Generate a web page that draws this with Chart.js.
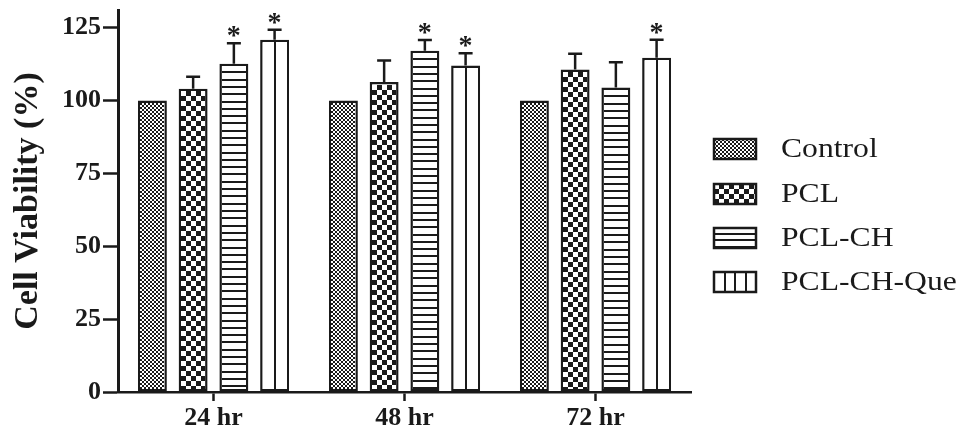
<!DOCTYPE html>
<html><head><meta charset="utf-8">
<script src="https://cdn.jsdelivr.net/npm/chart.js@4.4.0/dist/chart.umd.min.js"></script>
<style>html,body{margin:0;padding:0;background:#fff;}#wrap{width:961px;height:434px;position:relative;}</style>
</head><body><div id="wrap"><canvas id="c" width="961" height="434"></canvas></div>
<script>
// ---- data ----
const categories = ['24 hr', '48 hr', '72 hr'];
const seriesNames = ['Control', 'PCL', 'PCL-CH', 'PCL-CH-Que'];
const controlValues = [100, 100, 100];
const pclValues = [104, 106.3, 110.6];
const pclChValues = [112.6, 117, 104.4];
const pclChQueValues = [120.8, 112, 114.6];
const controlErrors = [0, 0, 0];
const pclErrors = [4.1, 7.4, 5.4];
const pclChErrors = [7, 3.7, 8.7];
const pclChQueErrors = [3.4, 4.2, 6.2];
const controlSig = [false, false, false];
const pclSig = [false, false, false];
const pclChSig = [true, true, false];
const pclChQueSig = [true, true, true];
const yTickValues = [0, 25, 50, 75, 100, 125];

const INK = '#1a1a1a';
const FONT = "'Liberation Serif', 'Times New Roman', serif";
const patterns = ['fine', 'checker', 'hlines', 'vlines'];
const valuesList = [controlValues, pclValues, pclChValues, pclChQueValues];
const errorsList = [controlErrors, pclErrors, pclChErrors, pclChQueErrors];
const sigList = [controlSig, pclSig, pclChSig, pclChQueSig];

function drawPattern(ctx, kind, x0, y0, w, h, isLegend) {
  ctx.save();
  ctx.beginPath(); ctx.rect(x0, y0, w, h); ctx.clip();
  ctx.fillStyle = '#fff'; ctx.fillRect(x0, y0, w, h);
  ctx.fillStyle = INK;
  if (kind === 'fine') {
    const s = 2;
    for (let yy = 0; yy < h; yy += s)
      for (let xx = 0; xx < w; xx += s)
        if (((xx / s) + (yy / s)) % 2 === 0) ctx.fillRect(x0 + xx, y0 + yy, s, s);
  } else if (kind === 'checker') {
    const s = 5;
    for (let yy = 0; yy < h; yy += s)
      for (let xx = 0; xx < w; xx += s)
        if ((Math.round(xx / s) + Math.round(yy / s)) % 2 === 1) ctx.fillRect(x0 + xx, y0 + yy, s, s);
  } else if (kind === 'hlines') {
    const p = isLegend ? 6.5 : 7.3;
    for (let yy = p - 1; yy < h; yy += p) ctx.fillRect(x0, Math.round(y0 + yy - 1), w, 2);
  } else if (kind === 'vlines') {
    const n = isLegend ? 4 : 2;
    for (let k = 1; k < n; k++) ctx.fillRect(Math.round(x0 + w * k / n - 1), y0, 2, h);
  }
  ctx.restore();
}

const patternPlugin = {
  id: 'patternPlugin',
  afterDatasetDraw(chart, args) {
    const ctx = chart.ctx;
    const i = args.index;
    const meta = chart.getDatasetMeta(i);
    const bw = 2.5;
    meta.data.forEach(bar => {
      const w = bar.width;
      const left = bar.x - w / 2 + bw, right = bar.x + w / 2 - bw;
      const top = Math.min(bar.y, bar.base) + bw, bottom = Math.max(bar.y, bar.base) - bw;
      drawPattern(ctx, patterns[i], Math.round(left), Math.round(top), Math.round(right - left), Math.round(bottom - top), false);
    });
  },
  afterDatasetsDraw(chart) {
    const ctx = chart.ctx;
    const ys = chart.scales.y;
    ctx.save();
    ctx.strokeStyle = INK; ctx.lineWidth = 2.5; ctx.fillStyle = INK;
    ctx.font = "bold 28px " + FONT; ctx.textAlign = 'center'; ctx.textBaseline = 'alphabetic';
    for (let i = 0; i < valuesList.length; i++) {
      const meta = chart.getDatasetMeta(i);
      meta.data.forEach((bar, j) => {
        const v = valuesList[i][j], e = errorsList[i][j];
        const yCap = ys.getPixelForValue(v + e);
        if (e > 0) {
          const yTop = ys.getPixelForValue(v);
          ctx.beginPath();
          ctx.moveTo(bar.x, yTop); ctx.lineTo(bar.x, yCap);
          ctx.moveTo(bar.x - 7, yCap); ctx.lineTo(bar.x + 7, yCap);
          ctx.stroke();
        }
        if (sigList[i][j]) ctx.fillText('*', bar.x, yCap + 1);
      });
    }
    ctx.restore();
  },
  afterDraw(chart) {
    const ctx = chart.ctx;
    const boxX = 714, boxW = 42, boxH = 20;
    const rowY = [149, 194, 238, 282];
    ctx.save();
    seriesNames.forEach((name, i) => {
      const cy = rowY[i];
      const bx = boxX, by = Math.round(cy - boxH / 2);
      drawPattern(ctx, patterns[i], bx, by, boxW, boxH, true);
      ctx.strokeStyle = INK; ctx.lineWidth = 2.5;
      ctx.strokeRect(bx, by, boxW, boxH);
      ctx.save();
      ctx.translate(781, cy);
      ctx.scale(1.13, 1);
      ctx.fillStyle = INK;
      ctx.font = "28px " + FONT;
      ctx.textAlign = 'left'; ctx.textBaseline = 'middle';
      ctx.fillText(name, 0, 1);
      ctx.restore();
    });
    ctx.restore();
  }
};

const ds = seriesNames.map((name, i) => ({
  label: name,
  data: valuesList[i],
  backgroundColor: '#fff',
  borderColor: INK,
  borderWidth: 2.5,
  borderSkipped: false,
  categoryPercentage: 0.853,
  barPercentage: 0.71
}));

new Chart(document.getElementById('c'), {
  type: 'bar',
  data: { labels: categories, datasets: ds },
  options: {
    responsive: false,
    animation: false,
    devicePixelRatio: 1,
    layout: { padding: { left: 0, right: 270, top: 10, bottom: 0 } },
    plugins: { legend: { display: false }, tooltip: { enabled: false } },
    scales: {
      x: {
        afterFit(s) { s.height = 42; s.paddingLeft = 0; s.paddingRight = 0; },
        grid: { display: true, drawOnChartArea: false, offset: false, tickLength: 9, tickWidth: 2.5, tickColor: INK },
        border: { display: true, color: INK, width: 2.5 },
        ticks: { color: INK, font: { family: FONT, size: 26, weight: 'bold' }, padding: 2 }
      },
      y: {
        min: 0, max: 131,
        afterFit(s) { s.width = 118; s.paddingTop = 0; s.paddingBottom = 0; },
        afterBuildTicks(s) { s.ticks = yTickValues.map(v => ({ value: v })); },
        grid: { display: true, drawOnChartArea: false, tickLength: 15, tickWidth: 2.5, tickColor: INK },
        border: { display: true, color: INK, width: 3 },
        ticks: { color: INK, font: { family: FONT, size: 26, weight: 'bold' }, padding: 2 },
        title: { display: true, text: 'Cell Viability (%)', color: INK, font: { family: FONT, size: 34, weight: 'bold' }, padding: { top: 8, bottom: 0 } }
      }
    }
  },
  plugins: [patternPlugin]
});
</script></body></html>
